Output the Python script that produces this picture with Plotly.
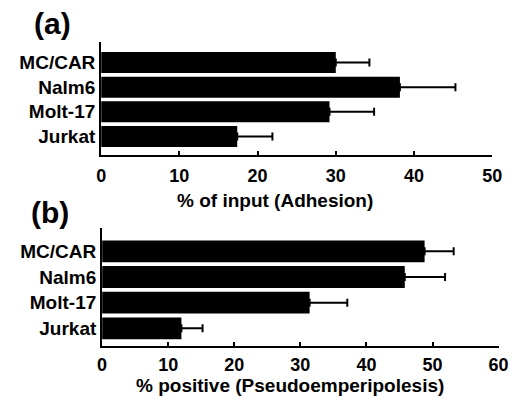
import plotly.graph_objects as go

cells = ["MC/CAR", "Nalm6", "Molt-17", "Jurkat"]
adhesion = [30.0, 38.2, 29.2, 17.4]
adhesion_err = [4.3, 7.1, 5.7, 4.5]
pseudo = [48.8, 45.8, 31.4, 12.0]
pseudo_err = [4.4, 6.1, 5.7, 3.2]
ticks_a = [0, 10, 20, 30, 40, 50]
ticks_b = [0, 10, 20, 30, 40, 50, 60]

W, H = 519, 403
FONT = "Liberation Sans"

def px_x(a, b):
    return [a / W, b / W]

def px_y(top, bottom):
    return [(H - bottom) / H, (H - top) / H]

fig = go.Figure()

err_style = dict(type="data", symmetric=False, color="black", thickness=2, width=4)

fig.add_trace(go.Bar(
    x=adhesion, y=cells, orientation="h", marker=dict(color="black", line=dict(width=0)),
    error_x=dict(array=adhesion_err, arrayminus=[0] * len(cells), **err_style),
    xaxis="x", yaxis="y", showlegend=False,
))
fig.add_trace(go.Bar(
    x=pseudo, y=cells, orientation="h", marker=dict(color="black", line=dict(width=0)),
    error_x=dict(array=pseudo_err, arrayminus=[0] * len(cells), **err_style),
    xaxis="x2", yaxis="y2", showlegend=False,
))

tickfont = dict(family=FONT, size=18, color="black", weight="bold")
catfont = dict(family=FONT, size=19, color="black", weight="bold")

xcommon = dict(showline=True, linewidth=2, linecolor="black", ticks="inside", ticklen=4,
               tickwidth=2, tickcolor="black", showgrid=False, zeroline=False,
               tickfont=tickfont, tickmode="array")
ycommon = dict(showline=True, linewidth=2, linecolor="black", ticks="", showgrid=False,
               zeroline=False, tickfont=catfont, type="category",
               categoryorder="array", categoryarray=cells[::-1])

fig.update_layout(
    width=W, height=H, margin=dict(l=0, r=0, t=0, b=0),
    paper_bgcolor="white", plot_bgcolor="white", bargap=0.15,
    xaxis=dict(domain=px_x(99, 501.7), range=[0, 50], tickvals=ticks_a, anchor="y",
               ticklabelstandoff=3, **xcommon),
    yaxis=dict(domain=px_y(42, 155), range=[-0.75, 3.83], anchor="x", **ycommon),
    xaxis2=dict(domain=px_x(100, 508.3), range=[0, 60], tickvals=ticks_b, anchor="y2",
                ticklabelstandoff=1, **xcommon),
    yaxis2=dict(domain=px_y(228, 346), range=[-0.69, 3.91], anchor="x2", **ycommon),
)

def ann(text, x, y, size):
    fig.add_annotation(text=text, x=x / W, y=(H - y) / H, xref="paper", yref="paper",
                       showarrow=False, xanchor="center", yanchor="middle",
                       font=dict(family=FONT, size=size, color="black", weight="bold"))

ann("(a)", 49, 23.5, 30)
ann("(b)", 46.5, 212, 30)
ann("% of input (Adhesion)", 278, 200, 19)
ann("% positive (Pseudoemperipolesis)", 293.5, 385, 19)

fig.write_html(
    "out.html",
    config={"displayModeBar": False},
    post_script="document.body.style.margin='0';document.body.style.padding='0';",
)
